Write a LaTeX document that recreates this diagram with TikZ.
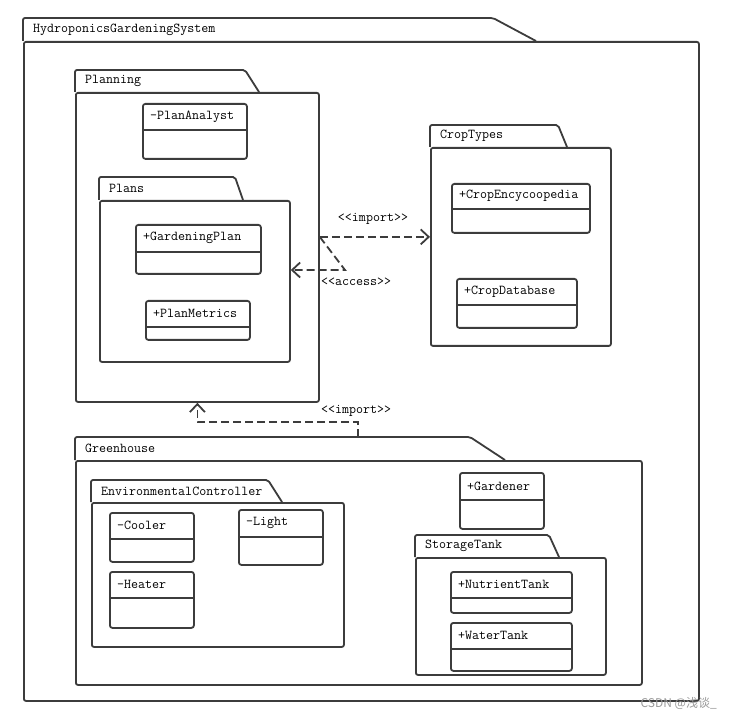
\documentclass[tikz,border=0pt]{standalone}
\usepackage{fontspec}
\newfontfamily\cjk{Noto Sans CJK SC}
\usepackage{xcolor}
\usepackage{tikz}
\usetikzlibrary{arrows.meta, positioning}

\definecolor{umlline}{RGB}{60,60,60}

% package: name, left, top, tab end, slant end, tab bottom, right, bottom, label
\newcommand{\umlpackage}[9]{%
  \draw[pkgline] (#2,#6) -- (#2,#3) -- (#4,#3) -- (#5,#6);
  \node[pkgbody, minimum width=#7pt-#2pt, minimum height=#8pt-#6pt, anchor=north west] (#1) at (#2,#6) {};
  \node[pkglabel] (#1-name) at (#2+10,{(#3+#6)/2}) {#9};
}
% class: name, north west corner, width, top part height, total height, label
\newcommand{\umlclass}[6]{%
  \node[clsbox, minimum width=#3pt, minimum height=#5pt, anchor=north west] (#1) at (#2) {};
  \draw[pkgline, rounded corners=0pt] ([yshift=-#4pt]#1.north west) -- ([yshift=-#4pt]#1.north east);
  \node[clslabel] (#1-name) at ([xshift=8pt, yshift=-#4pt/2]#1.north west) {#6};
}

\begin{document}
\begin{tikzpicture}[
  x=1pt, y=-1pt,
  pkgline/.style={draw=umlline, line width=1.8pt, rounded corners=2pt},
  pkgbody/.style={rectangle, draw=umlline, line width=1.8pt, rounded corners=2pt, inner sep=0pt},
  clsbox/.style={rectangle, draw=umlline, line width=1.8pt, rounded corners=2.5pt, inner sep=0pt},
  pkglabel/.style={anchor=west, inner sep=0pt, font=\fontsize{13.6}{15}\selectfont\ttfamily},
  clslabel/.style={anchor=west, inner sep=0pt, font=\fontsize{13.6}{15}\selectfont\ttfamily},
  stereo/.style={inner sep=0pt, font=\fontsize{13.6}{15}\selectfont\ttfamily},
  dep/.style={draw=umlline, line width=1.8pt, dash pattern=on 8pt off 4pt,
              -{Straight Barb[length=8pt, width=15pt, line width=1.8pt]}}
]
\useasboundingbox (0,0) rectangle (731,719);

% outer package
\umlpackage{system}{23}{18}{493}{536}{41}{698}{700}{HydroponicsGardeningSystem}

% Planning
\umlpackage{planning}{75}{70}{245}{259}{92}{318}{401}{Planning}
\umlclass{analyst}{142,103}{104}{27}{55}{-PlanAnalyst}
\umlpackage{plans}{99}{177}{235}{243}{200}{289}{361}{Plans}
\umlclass{gardenplan}{135,224}{125}{28}{49}{+GardeningPlan}
\umlclass{metrics}{145,300}{104}{27}{39}{+PlanMetrics}

% CropTypes
\umlpackage{croptypes}{430}{125}{558}{567}{147}{610}{345}{CropTypes}
\umlclass{encyclopedia}{451,183}{138}{26}{49}{+CropEncycoopedia}
\umlclass{database}{456,278}{120}{27}{49}{+CropDatabase}

% Greenhouse
\umlpackage{greenhouse}{75}{437}{470}{505}{460}{641}{684}{Greenhouse}
\umlpackage{envctrl}{91}{480}{268}{282}{502}{343}{646}{EnvironmentalController}
\umlclass{cooler}{109,512}{84}{27}{49}{-Cooler}
\umlclass{light}{238,509}{84}{28}{55}{-Light}
\umlclass{heater}{109,571}{84}{27}{56}{-Heater}
\umlclass{gardener}{459,472}{84}{28}{56}{+Gardener}
\umlpackage{storage}{415}{535}{549}{559}{557}{605}{674}{StorageTank}
\umlclass{nutrient}{450,571}{121}{27}{41}{+NutrientTank}
\umlclass{water}{450,622}{121}{27}{48}{+WaterTank}

% dependencies
\coordinate (accbend) at (345,270);
\coordinate (ghtop) at (358,437);
\draw[dep] ([yshift=10.5pt]planning.east) -- ([yshift=10.5pt]planning.east -| croptypes.west);
\node[stereo] (imp1) at (373,219) {<<import>>};
\draw[dep] ([yshift=10.5pt]planning.east) -- (accbend) -- (accbend -| plans.east);
\node[stereo, anchor=west] (acc) at (321,282) {<<access>>};
\draw[dep] (ghtop) |- ([yshift=-19pt]planning.south) -- (planning.south);
\node[stereo, anchor=west] (imp2) at (321,411) {<<import>>};

% watermark
\node[inner sep=0pt, anchor=east, text=gray!80, font=\fontsize{12}{14}\selectfont\cjk] (mark) at (717,703) {CSDN @浅谈\_};
\end{tikzpicture}
\end{document}
